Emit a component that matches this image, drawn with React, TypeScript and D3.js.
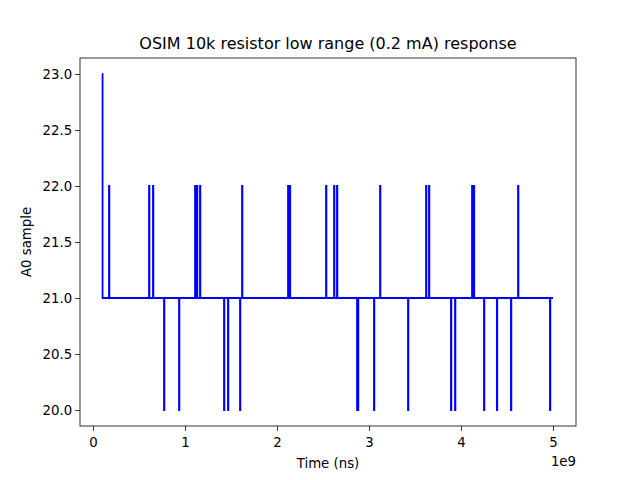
import React, { useEffect, useRef } from 'react';
import * as d3 from 'd3';

// spike times in units of 1e9 ns
const upTimes = [0.174, 0.609, 0.652, 1.109, 1.13, 1.163, 1.62, 2.12, 2.14, 2.533, 2.62, 2.652, 3.12, 3.62, 3.652, 4.12, 4.14, 4.62];
const downTimes = [0.772, 0.935, 1.424, 1.467, 1.598, 2.87, 2.88, 3.054, 3.424, 3.891, 3.935, 4.25, 4.39, 4.543, 4.967];
const startTime = 0.1;
const endTime = 5.0;
const baseValue = 21;
const xTicks = [0, 1, 2, 3, 4, 5];
const yTicks = [20.0, 20.5, 21.0, 21.5, 22.0, 22.5, 23.0];

const App: React.FC = () => {
  const ref = useRef<SVGSVGElement | null>(null);

  useEffect(() => {
    const svg = d3.select(ref.current);
    svg.selectAll('*').remove();
    const W = 640, H = 480;
    const m = { left: 80, right: 576, top: 58, bottom: 426 };
    const font = 'DejaVu Sans, sans-serif';

    const x = d3.scaleLinear().domain([-0.1413, 5.25]).range([m.left, m.right]);
    const y = d3.scaleLinear().domain([19.857, 23.143]).range([m.bottom, m.top]);

    svg.append('rect').attr('width', W).attr('height', H).attr('fill', 'white');

    // build step trace from events
    const events = [
      ...upTimes.map(t => ({ t, v: 22 })),
      ...downTimes.map(t => ({ t, v: 20 })),
    ].sort((a, b) => a.t - b.t);
    const w = 0.004;
    const pts: [number, number][] = [[startTime, 23], [startTime + w, 23], [startTime + w, baseValue]];
    events.forEach(e => {
      pts.push([e.t, baseValue], [e.t, e.v], [e.t + w, e.v], [e.t + w, baseValue]);
    });
    pts.push([endTime, baseValue]);

    svg.append('path')
      .attr('d', d3.line<[number, number]>().x(d => x(d[0])).y(d => y(d[1]))(pts))
      .attr('fill', 'none').attr('stroke', 'blue').attr('stroke-width', 1.8);

    const xa = svg.append('g').attr('transform', `translate(0,${m.bottom})`)
      .call(d3.axisBottom(x).tickValues(xTicks).tickFormat(d => String(d)).tickSize(4.9).tickSizeOuter(0));
    const ya = svg.append('g').attr('transform', `translate(${m.left},0)`)
      .call(d3.axisLeft(y).tickValues(yTicks).tickFormat(d3.format('.1f')).tickSize(4.9).tickSizeOuter(0));
    [xa, ya].forEach(a => {
      a.select('.domain').remove();
      a.selectAll('text').attr('font-family', font).attr('font-size', 13.3).attr('fill', 'black');
      a.selectAll('line').attr('stroke', 'black').attr('stroke-width', 0.8);
    });
    xa.selectAll('text').attr('dy', '0.95em');

    svg.append('rect').attr('x', m.left).attr('y', m.top)
      .attr('width', m.right - m.left).attr('height', m.bottom - m.top)
      .attr('fill', 'none').attr('stroke', 'black').attr('stroke-width', 0.8);

    svg.append('text').attr('x', (m.left + m.right) / 2).attr('y', 49).attr('text-anchor', 'middle')
      .attr('font-family', font).attr('font-size', 16).text('OSIM 10k resistor low range (0.2 mA) response');
    svg.append('text').attr('x', (m.left + m.right) / 2).attr('y', 468).attr('text-anchor', 'middle')
      .attr('font-family', font).attr('font-size', 13.3).text('Time (ns)');
    svg.append('text').attr('transform', `translate(31,${(m.top + m.bottom) / 2}) rotate(-90)`)
      .attr('text-anchor', 'middle').attr('font-family', font).attr('font-size', 13.3).text('A0 sample');
    svg.append('text').attr('x', m.right).attr('y', 466).attr('text-anchor', 'end')
      .attr('font-family', font).attr('font-size', 13.3).text('1e9');
  }, []);

  return <svg ref={ref} width={640} height={480} style={{ position: 'absolute', left: 0, top: 0 }} />;
};

export default App;
